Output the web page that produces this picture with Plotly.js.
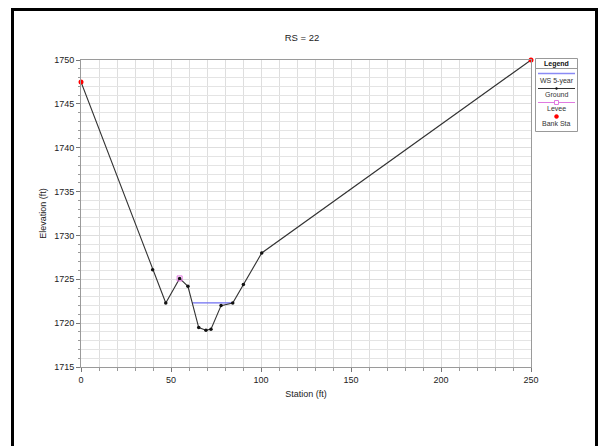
<!DOCTYPE html>
<html>
<head>
<meta charset="utf-8">
<script src="https://cdn.plot.ly/plotly-3.0.1.min.js"></script>
<style>
html,body{margin:0;padding:0;background:#fff;}
#chart{width:604px;height:446px;}
</style>
</head>
<body>
<div id="chart"></div>
<script>
// Data
const groundStation = [0, 39.8, 47.1, 54.8, 59.4, 65.4, 69.4, 72.2, 77.8, 84.3, 90.2, 100.4, 250];
const groundElev    = [1747.5, 1726.1, 1722.3, 1725.1, 1724.2, 1719.5, 1719.2, 1719.3, 1722.0, 1722.3, 1724.4, 1728.0, 1750];
const wsStation = [61.8, 84.3];
const wsElev    = [1722.3, 1722.3];
const leveeStation = [54.8];
const leveeElev    = [1725.1];
const bankStation = [0, 250];
const bankElev    = [1747.5, 1750];
const legendLabels = ["WS 5-year", "Ground", "Levee", "Bank Sta"];

const FONT = "Liberation Sans, Arial, sans-serif";
const TXT = "#222";

const traces = [
  {x: wsStation, y: wsElev, mode: "lines", name: legendLabels[0],
   line: {color: "#6f6ff2", width: 1.3}, hoverinfo: "skip"},
  {x: groundStation, y: groundElev, mode: "lines+markers", name: legendLabels[1],
   line: {color: "#333", width: 1.1}, marker: {color: "#111", size: 3.5}, hoverinfo: "skip"},
  {x: leveeStation, y: leveeElev, mode: "markers", name: legendLabels[2],
   marker: {symbol: "square-open", color: "#e07ae0", size: 5, line: {width: 1}}, hoverinfo: "skip"},
  {x: bankStation, y: bankElev, mode: "markers", name: legendLabels[3],
   marker: {color: "#ff0000", size: 5}, cliponaxis: false, hoverinfo: "skip"}
];

// plot area in pixels: x 81..531, y 60..367
const L = 81, R = 531, T = 60, B = 367;
const px = v => (v - L) / (R - L);
const py = v => (B - v) / (B - T);

const shapes = [
  // outer black frame
  {type: "rect", xref: "paper", yref: "paper", x0: px(12.5), x1: px(596.5), y0: py(460), y1: py(9.5),
   line: {color: "#000", width: 3}, layer: "above"},
  // legend box
  {type: "rect", xref: "paper", yref: "paper", x0: px(535.5), x1: px(577.5), y0: py(131.5), y1: py(58.5),
   line: {color: "#999", width: 1}, fillcolor: "#fff"},
  {type: "line", xref: "paper", yref: "paper", x0: px(536), x1: px(577), y0: py(68.5), y1: py(68.5),
   line: {color: "#999", width: 1}},
  // legend samples
  {type: "line", xref: "paper", yref: "paper", x0: px(538), x1: px(575), y0: py(73.5), y1: py(73.5),
   line: {color: "#8a8af5", width: 1.3}},
  {type: "line", xref: "paper", yref: "paper", x0: px(538), x1: px(575), y0: py(88.5), y1: py(88.5),
   line: {color: "#333", width: 1}},
  {type: "circle", xref: "paper", yref: "paper", x0: px(555.5), x1: px(557.5), y0: py(89.5), y1: py(87.5),
   line: {color: "#111", width: 0.5}, fillcolor: "#111"},
  {type: "line", xref: "paper", yref: "paper", x0: px(538), x1: px(575), y0: py(102.5), y1: py(102.5),
   line: {color: "#e07ae0", width: 1}},
  {type: "rect", xref: "paper", yref: "paper", x0: px(554.5), x1: px(558.5), y0: py(104.5), y1: py(100.5),
   line: {color: "#e07ae0", width: 1}, fillcolor: "#fff"},
  {type: "circle", xref: "paper", yref: "paper", x0: px(554.5), x1: px(558.5), y0: py(118.5), y1: py(114.5),
   line: {color: "#ff0000", width: 0.5}, fillcolor: "#ff0000"}
];

const ann = (text, x, y, opts) => Object.assign({
  text: text, xref: "paper", yref: "paper", x: px(x), y: py(y), showarrow: false,
  xanchor: "center", yanchor: "middle", font: {family: FONT, size: 7, color: "#333"}
}, opts || {});

const annotations = [
  ann("<b>Legend</b>", 556.5, 63.5, {font: {family: FONT, size: 7, color: "#111"}}),
  ann(legendLabels[0], 556.5, 80.5),
  ann(legendLabels[1], 556.5, 94.5),
  ann(legendLabels[2], 556.5, 109),
  ann(legendLabels[3], 556.5, 123.5)
];

const layout = {
  width: 604, height: 446,
  margin: {l: L, r: 604 - R, t: T, b: 446 - B, pad: 0},
  paper_bgcolor: "#fff", plot_bgcolor: "#fff",
  showlegend: false,
  font: {family: FONT, size: 9, color: TXT},
  title: {text: "RS = 22", x: 0.5, xanchor: "center", y: 1 - 38 / 446, yanchor: "middle",
          font: {family: FONT, size: 9.5, color: TXT}},
  xaxis: {
    range: [0, 250], dtick: 50, tick0: 0, zeroline: false,
    showgrid: true, gridcolor: "#dedede", gridwidth: 1,
    showline: true, linecolor: "#9a9a9a", linewidth: 1, mirror: true,
    ticks: "outside", ticklen: 4, tickcolor: "#777", tickwidth: 1,
    tickfont: {family: FONT, size: 9, color: TXT},
    minor: {dtick: 10, showgrid: true, gridcolor: "#dedede", gridwidth: 1, ticks: "outside", ticklen: 3, tickcolor: "#999"},
    title: {text: "Station (ft)", standoff: 6, font: {family: FONT, size: 9, color: TXT}}
  },
  yaxis: {
    range: [1715, 1750], dtick: 5, tick0: 1715, zeroline: false,
    showgrid: true, gridcolor: "#dedede", gridwidth: 1,
    showline: true, linecolor: "#9a9a9a", linewidth: 1, mirror: true,
    ticks: "outside", ticklen: 4, tickcolor: "#777", tickwidth: 1,
    tickfont: {family: FONT, size: 9, color: TXT},
    minor: {dtick: 1, showgrid: true, gridcolor: "#e4e4e4", gridwidth: 1, ticks: "outside", ticklen: 2, tickcolor: "#999"},
    title: {text: "Elevation (ft)", standoff: 6, font: {family: FONT, size: 9, color: TXT}}
  },
  shapes: shapes,
  annotations: annotations
};

Plotly.newPlot("chart", traces, layout, {staticPlot: true, displayModeBar: false});
</script>
</body>
</html>
